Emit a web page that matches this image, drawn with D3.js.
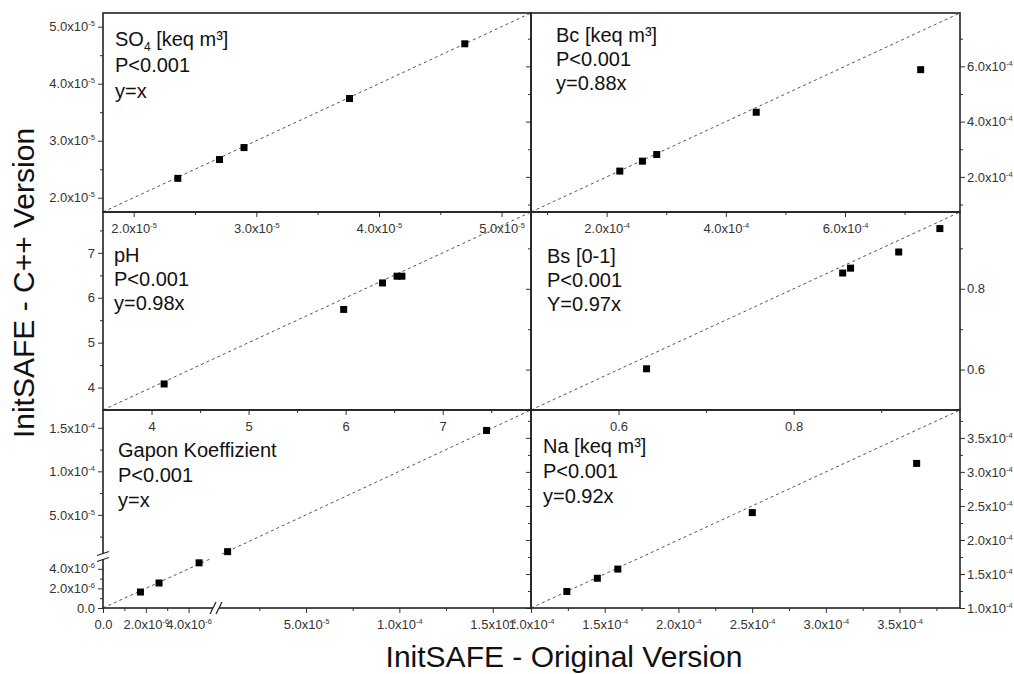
<!DOCTYPE html>
<html>
<head>
<meta charset="utf-8">
<script src="https://cdn.jsdelivr.net/npm/d3@7"></script>
<style>
  html, body { margin: 0; padding: 0; background: #fff; }
  svg { display: block; }
</style>
</head>
<body>
<svg id="chart" width="1014" height="674"></svg>
<script>
// ---- data: original version (x) vs. C++ version (y) ----
const so4Orig = [2.36e-5, 2.70e-5, 2.90e-5, 3.76e-5, 4.70e-5];
const so4Cpp  = [2.34e-5, 2.67e-5, 2.88e-5, 3.74e-5, 4.70e-5];
const bcOrig  = [2.22e-4, 2.60e-4, 2.84e-4, 4.51e-4, 7.27e-4];
const bcCpp   = [2.21e-4, 2.57e-4, 2.81e-4, 4.34e-4, 5.88e-4];
const phOrig  = [4.13, 5.98, 6.38, 6.53, 6.58];
const phCpp   = [4.08, 5.74, 6.33, 6.48, 6.48];
const bsOrig  = [0.632, 0.856, 0.865, 0.920, 0.967];
const bsCpp   = [0.602, 0.839, 0.851, 0.891, 0.949];
const gaponOrig = [1.75e-6, 2.62e-6, 4.49e-6, 8.0e-6, 1.467e-4];
const gaponCpp  = [1.63e-6, 2.55e-6, 4.61e-6, 7.7e-6, 1.47e-4];
const naOrig  = [1.243e-4, 1.450e-4, 1.589e-4, 2.501e-4, 3.616e-4];
const naCpp   = [1.243e-4, 1.437e-4, 1.572e-4, 2.402e-4, 3.125e-4];

// axis ranges (shared by x and y in each panel)
const so4Domain = [1.75e-5, 5.24e-5];
const bcDomain  = [0.73e-4, 7.93e-4];
const phDomain  = [3.5, 7.91];
const bsDomain  = [0.5, 0.99];
const naDomain  = [1.0e-4, 3.91e-4];
const gaponLowDomain  = [0, 5e-6];
const gaponHighDomain = [5e-6, 1.705e-4];

// tick values
const so4Major = [2e-5, 3e-5, 4e-5, 5e-5];
const so4Minor = [2.5e-5, 3.5e-5, 4.5e-5];
const bcMajor  = [2e-4, 4e-4, 6e-4];
const bcMinor  = [1e-4, 3e-4, 5e-4, 7e-4];
const phMajor  = [4, 5, 6, 7];
const phMinor  = [4.5, 5.5, 6.5, 7.5];
const bsMajor  = [0.6, 0.8];
const bsMinor  = [0.7, 0.9];
const naMajor  = [1.0e-4, 1.5e-4, 2.0e-4, 2.5e-4, 3.0e-4, 3.5e-4];
const naMinor  = [1.25e-4, 1.75e-4, 2.25e-4, 2.75e-4, 3.25e-4, 3.75e-4];
const gaponLowMajor  = [0, 2e-6, 4e-6];
const gaponLowMinor  = [1e-6, 3e-6];
const gaponHighMajor = [5e-5, 1e-4, 1.5e-4];
const gaponHighMinor = [2.5e-5, 7.5e-5, 1.25e-4];

// panel annotations ("_4" marks a subscript)
const so4Text   = ["SO_4 [keq m³]", "P<0.001", "y=x"];
const bcText    = ["Bc [keq m³]", "P<0.001", "y=0.88x"];
const phText    = ["pH", "P<0.001", "y=0.98x"];
const bsText    = ["Bs [0-1]", "P<0.001", "Y=0.97x"];
const gaponText = ["Gapon Koeffizient", "P<0.001", "y=x"];
const naText    = ["Na [keq m³]", "P<0.001", "y=0.92x"];

const yTitle = "InitSAFE - C++ Version";
const xTitle = "InitSAFE - Original Version";

// ---- layout ----
const FONT = "'Liberation Sans', Arial, Helvetica, sans-serif";
const colX = [103, 531, 960];
const rowY = [13, 212, 410, 608];
const INK = "#222";

const svg = d3.select("#chart").attr("font-family", FONT);

function writeLabel(t, d, fmt) {
  t.text(null);
  if (fmt === "sci") {
    if (d === 0) { t.text("0.0"); return; }
    const e = Math.floor(Math.log10(Math.abs(d)) + 1e-9);
    const m = d / Math.pow(10, e);
    t.append("tspan").text(m.toFixed(1) + "x10");
    t.append("tspan").attr("font-size", 7.5).attr("dy", -5).text(String(e));
  } else if (fmt === "int") {
    t.text(d3.format("d")(d));
  } else {
    t.text(d3.format(".1f")(d));
  }
}

function axis(parent, orient, scale, major, minor, fmt, labels, transform, pad) {
  const mk = { bottom: d3.axisBottom, left: d3.axisLeft, right: d3.axisRight }[orient];
  const g = parent.append("g").attr("transform", transform);
  if (minor.length) {
    g.append("g").call(mk(scale).tickValues(minor).tickSize(3).tickSizeOuter(0).tickFormat(""));
  }
  const gm = g.append("g").call(mk(scale).tickValues(major).tickSize(5).tickSizeOuter(0).tickPadding(pad));
  g.selectAll(".domain").remove();
  g.selectAll(".tick line").attr("stroke", "#333").attr("stroke-width", 1);
  g.selectAll("g").attr("font-family", FONT).attr("font-size", 13);
  if (!labels) {
    gm.selectAll(".tick text").remove();
  } else {
    gm.selectAll(".tick text").attr("fill", "#333").each(function (d) {
      writeLabel(d3.select(this), d, fmt);
    });
  }
  return g;
}

function annotate(lines, x, y, gap) {
  const t = svg.append("g").attr("font-size", 20).attr("fill", "#111");
  lines.forEach((line, i) => {
    const txt = t.append("text").attr("x", x).attr("y", y + i * gap);
    const parts = line.split(/_(\w)/);
    parts.forEach((p, j) => {
      if (j % 2 === 1) {
        txt.append("tspan").attr("font-size", 12).attr("dy", 5).text(p);
      } else if (p.length) {
        const s = txt.append("tspan").text(p);
        if (j > 0) s.attr("dy", -5);
      }
    });
  });
}

function squares(g, xs, ys, fx, fy) {
  g.selectAll(null).data(xs.map((v, i) => [v, ys[i]])).join("rect")
    .attr("x", d => fx(d[0]) - 3.5).attr("y", d => fy(d[1]) - 3.5)
    .attr("width", 7).attr("height", 7).attr("fill", "#000");
}

function dashed(g, pts) {
  g.append("path").attr("d", d3.line()(pts)).attr("fill", "none")
    .attr("stroke", "#555").attr("stroke-width", 1).attr("stroke-dasharray", "3,3");
}

function border(x0, y0, x1, y1) {
  svg.append("rect").attr("x", x0).attr("y", y0).attr("width", x1 - x0).attr("height", y1 - y0)
    .attr("fill", "none").attr("stroke", INK).attr("stroke-width", 1.6);
}

// ---- regular panels ----
const panels = [
  { col: 0, row: 0, xv: so4Orig, yv: so4Cpp, dom: so4Domain, major: so4Major, minor: so4Minor, fmt: "sci", text: so4Text, tx: 12, ty: 33, gap: 26 },
  { col: 1, row: 0, xv: bcOrig,  yv: bcCpp,  dom: bcDomain,  major: bcMajor,  minor: bcMinor,  fmt: "sci", text: bcText,  tx: 25, ty: 29, gap: 24 },
  { col: 0, row: 1, xv: phOrig,  yv: phCpp,  dom: phDomain,  major: phMajor,  minor: phMinor,  fmt: "int", text: phText,  tx: 11, ty: 50, gap: 24 },
  { col: 1, row: 1, xv: bsOrig,  yv: bsCpp,  dom: bsDomain,  major: bsMajor,  minor: bsMinor,  fmt: "dec", text: bsText,  tx: 16, ty: 51, gap: 24 },
  { col: 1, row: 2, xv: naOrig,  yv: naCpp,  dom: naDomain,  major: naMajor,  minor: naMinor,  fmt: "sci", text: naText,  tx: 12, ty: 43, gap: 25 }
];

panels.forEach(p => {
  const x0 = colX[p.col], x1 = colX[p.col + 1];
  const y0 = rowY[p.row], y1 = rowY[p.row + 1];
  const xs = d3.scaleLinear().domain(p.dom).range([x0, x1]);
  const ys = d3.scaleLinear().domain(p.dom).range([y1, y0]);
  const g = svg.append("g");
  dashed(g, [[xs(p.dom[0]), ys(p.dom[0])], [xs(p.dom[1]), ys(p.dom[1])]]);
  squares(g, p.xv, p.yv, xs, ys);
  axis(g, "bottom", xs, p.major, p.minor, p.fmt, true, `translate(0,${y1})`, 7);
  if (p.col === 0) {
    axis(g, "left", ys, p.major, p.minor, p.fmt, true, `translate(${x0},0)`, 3);
  } else {
    axis(g, "right", ys, p.major, p.minor, p.fmt, true, `translate(${x1},0)`, 2);
    axis(g, "left", ys, p.major, p.minor, p.fmt, false, `translate(${x0},0)`, 3);
  }
  border(x0, y0, x1, y1);
  annotate(p.text, x0 + p.tx, y0 + p.ty, p.gap);
});

// ---- Gapon panel with broken axes ----
{
  const x0 = colX[0], x1 = colX[1], y0 = rowY[2], y1 = rowY[3];
  const xBreak = [210, 222], yBreak = [559, 554];
  const xLo = d3.scaleLinear().domain(gaponLowDomain).range([x0, xBreak[0]]);
  const xHi = d3.scaleLinear().domain(gaponHighDomain).range([xBreak[1], x1]);
  const yLo = d3.scaleLinear().domain(gaponLowDomain).range([y1, yBreak[0]]);
  const yHi = d3.scaleLinear().domain(gaponHighDomain).range([yBreak[1], y0]);
  const fx = v => (v <= gaponLowDomain[1] ? xLo(v) : xHi(v));
  const fy = v => (v <= gaponLowDomain[1] ? yLo(v) : yHi(v));
  const g = svg.append("g");

  dashed(g, gaponLowDomain.map(v => [xLo(v), yLo(v)]));
  dashed(g, gaponHighDomain.map(v => [xHi(v), yHi(v)]));
  squares(g, gaponOrig, gaponCpp, fx, fy);

  axis(g, "bottom", xLo, gaponLowMajor, gaponLowMinor, "sci", true, `translate(0,${y1})`, 7);
  axis(g, "bottom", xHi, gaponHighMajor, gaponHighMinor, "sci", true, `translate(0,${y1})`, 7);
  axis(g, "left", yLo, gaponLowMajor, gaponLowMinor, "sci", true, `translate(${x0},0)`, 3);
  axis(g, "left", yHi, gaponHighMajor, gaponHighMinor, "sci", true, `translate(${x0},0)`, 3);
  border(x0, y0, x1, y1);

  // break marks
  const bx = (xBreak[0] + xBreak[1]) / 2, by = (yBreak[0] + yBreak[1]) / 2;
  svg.append("rect").attr("x", bx - 3).attr("y", y1 - 2).attr("width", 6).attr("height", 4).attr("fill", "#fff");
  svg.append("rect").attr("x", x0 - 2).attr("y", by - 2.5).attr("width", 4).attr("height", 5).attr("fill", "#fff");
  const marks = svg.append("g").attr("stroke", INK).attr("stroke-width", 1.2);
  [-3, 3].forEach(o => {
    marks.append("line").attr("x1", bx + o - 3).attr("y1", y1 + 6).attr("x2", bx + o + 3).attr("y2", y1 - 6);
    marks.append("line").attr("x1", x0 - 6).attr("y1", by + o + 2).attr("x2", x0 + 6).attr("y2", by + o - 2);
  });

  annotate(gaponText, x0 + 15, y0 + 47, 25);
}

// ---- axis titles ----
svg.append("text").attr("transform", "translate(34,283) rotate(-90)")
  .attr("text-anchor", "middle").attr("font-size", 30).attr("fill", "#111").text(yTitle);
svg.append("text").attr("x", 564).attr("y", 667)
  .attr("text-anchor", "middle").attr("font-size", 30).attr("fill", "#111").text(xTitle);
</script>
</body>
</html>
